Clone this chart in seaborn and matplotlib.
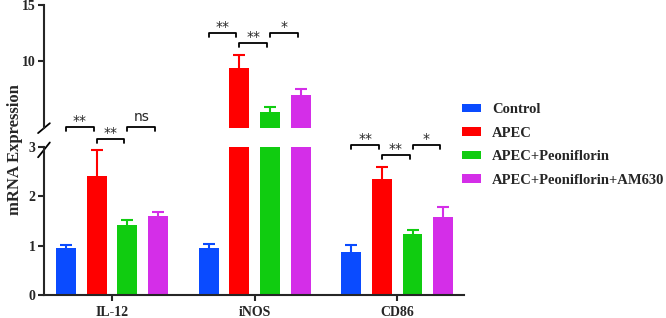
import matplotlib
matplotlib.use('Agg')
import matplotlib.pyplot as plt
import seaborn as sns
import pandas as pd

genes = ['IL-12', 'iNOS', 'CD86']
groups = ['Control', 'APEC', 'APEC+Peoniflorin', 'APEC+Peoniflorin+AM630']
colors = ['#0a4bff', '#ff0000', '#10cc10', '#d42ee8']

control = [0.95, 0.95, 0.88]
apec = [2.41, 9.37, 2.35]
peoni = [1.42, 5.45, 1.24]
am630 = [1.61, 7.0, 1.59]

control_err = [0.07, 0.08, 0.13]
apec_err = [0.52, 1.2, 0.25]
peoni_err = [0.10, 0.45, 0.08]
am630_err = [0.08, 0.47, 0.20]

sig_il12 = ['**', '**', 'ns']
sig_inos = ['**', '**', '*']
sig_cd86 = ['**', '**', '*']

rows = []
for vals, errs, g in [(control, control_err, groups[0]), (apec, apec_err, groups[1]),
                      (peoni, peoni_err, groups[2]), (am630, am630_err, groups[3])]:
    for gene, v, e in zip(genes, vals, errs):
        rows.append([gene, g, v, e])
df = pd.DataFrame(rows, columns=['gene', 'group', 'value', 'err'])

sns.set_style('white')
plt.rcParams['font.family'] = ['Liberation Serif', 'DejaVu Serif']
plt.rcParams['font.weight'] = 'bold'

fig = plt.figure(figsize=(6.66, 3.18), dpi=100)
left, right = 0.066, 0.697
ax_lo = fig.add_axes([left, 0.0723, right - left, 0.538 - 0.0723])
ax_hi = fig.add_axes([left, 0.597, right - left, 0.984 - 0.597], sharex=ax_lo)
# keep the brackets in the gap visible
ax_hi.patch.set_visible(False)
ax_lo.patch.set_visible(False)
ax_lo.set_zorder(2)

for ax in (ax_lo, ax_hi):
    sns.barplot(data=df, x='gene', y='value', hue='group', hue_order=groups, order=genes,
                palette=colors, width=0.86, gap=0.35, errorbar=None, saturation=1,
                linewidth=0, ax=ax, legend=(ax is ax_lo))
    # upper-only error bars, coloured like the bars
    for gi, g in enumerate(groups):
        sub = df[df['group'] == g].set_index('gene').loc[genes]
        xs = [p.get_x() + p.get_width() / 2 for p in ax.containers[gi]]
        eb = ax.errorbar(xs, sub['value'], yerr=[[0] * len(xs), sub['err']], fmt='none',
                         ecolor=colors[gi], elinewidth=1.5, capsize=4, capthick=1.5)
        eb[1][0].set_visible(False)  # no cap at the bar top

ax_lo.set_ylim(0, 3)
ax_hi.set_ylim(4, 15)
ax_lo.set_xlim(-0.477, 2.47)
ax_lo.set_yticks([0, 1, 2, 3])
ax_hi.set_yticks([10, 15])

for ax in (ax_lo, ax_hi):
    ax.spines['top'].set_visible(False)
    ax.spines['right'].set_visible(False)
    ax.spines['left'].set_linewidth(1.5)
    ax.tick_params(axis='y', left=True, length=4, width=1.5, labelsize=10, pad=2)
    ax.set_ylabel('')
    ax.set_xlabel('')
ax_lo.spines['bottom'].set_linewidth(1.5)
ax_hi.spines['bottom'].set_visible(False)
ax_hi.tick_params(axis='x', bottom=False, labelbottom=False)
ax_lo.tick_params(axis='x', bottom=True, length=4, width=1.5, labelsize=10, pad=4)
for lab in ax_lo.get_xticklabels() + ax_lo.get_yticklabels() + ax_hi.get_yticklabels():
    lab.set_fontweight('bold')

fig.text(0.022, 0.53, 'mRNA Expression', rotation=90, va='center', ha='center',
         fontsize=12, fontweight='bold')

# break marks
kw = dict(color='k', lw=1.3, clip_on=False)
ax_hi.plot([-0.014, 0.014], [-0.04, 0.04], transform=ax_hi.transAxes, **kw)
ax_lo.plot([-0.014, 0.014], [0.93, 1.03], transform=ax_lo.transAxes, **kw)

# legend
handles, labels = ax_lo.get_legend_handles_labels()
ax_lo.get_legend().remove()
fig.legend(handles, labels, loc='upper left', bbox_to_anchor=(0.674, 0.717), frameon=False,
           prop={'family': 'Liberation Serif', 'weight': 'bold', 'size': 10.5},
           handlelength=1.3, handleheight=0.55, handletextpad=0.75, labelspacing=0.72)

# significance brackets
step = 0.215
def bracket(ax, gene_i, a, b, y, h, label):
    x1 = gene_i + (a - 1.5) * step
    x2 = gene_i + (b - 1.5) * step - 0.02
    ax.plot([x1, x1, x2, x2], [y - h, y, y, y - h], color='k', lw=1.3, clip_on=False)
    if label == 'ns':
        ax.text((x1 + x2) / 2, y + h * 0.6, label, ha='center', va='bottom', fontsize=10,
                family='DejaVu Sans', fontweight='normal', clip_on=False)
    else:
        ax.text((x1 + x2) / 2, y - h * 0.3, label, ha='center', va='bottom', fontsize=10,
                family='DejaVu Sans', fontweight='normal', clip_on=False)

hlo = 0.08
bracket(ax_lo, 0, 0, 1, 3.41, hlo, sig_il12[0])
bracket(ax_lo, 0, 1, 2, 3.16, hlo, sig_il12[1])
bracket(ax_lo, 0, 2, 3, 3.41, hlo, sig_il12[2])
bracket(ax_lo, 2, 0, 1, 3.04, hlo, sig_cd86[0])
bracket(ax_lo, 2, 1, 2, 2.84, hlo, sig_cd86[1])
bracket(ax_lo, 2, 2, 3, 3.04, hlo, sig_cd86[2])
hhi = 0.36
bracket(ax_hi, 1, 0, 1, 12.5, hhi, sig_inos[0])
bracket(ax_hi, 1, 1, 2, 11.6, hhi, sig_inos[1])
bracket(ax_hi, 1, 2, 3, 12.5, hhi, sig_inos[2])

fig.savefig('out.png', dpi=100)
